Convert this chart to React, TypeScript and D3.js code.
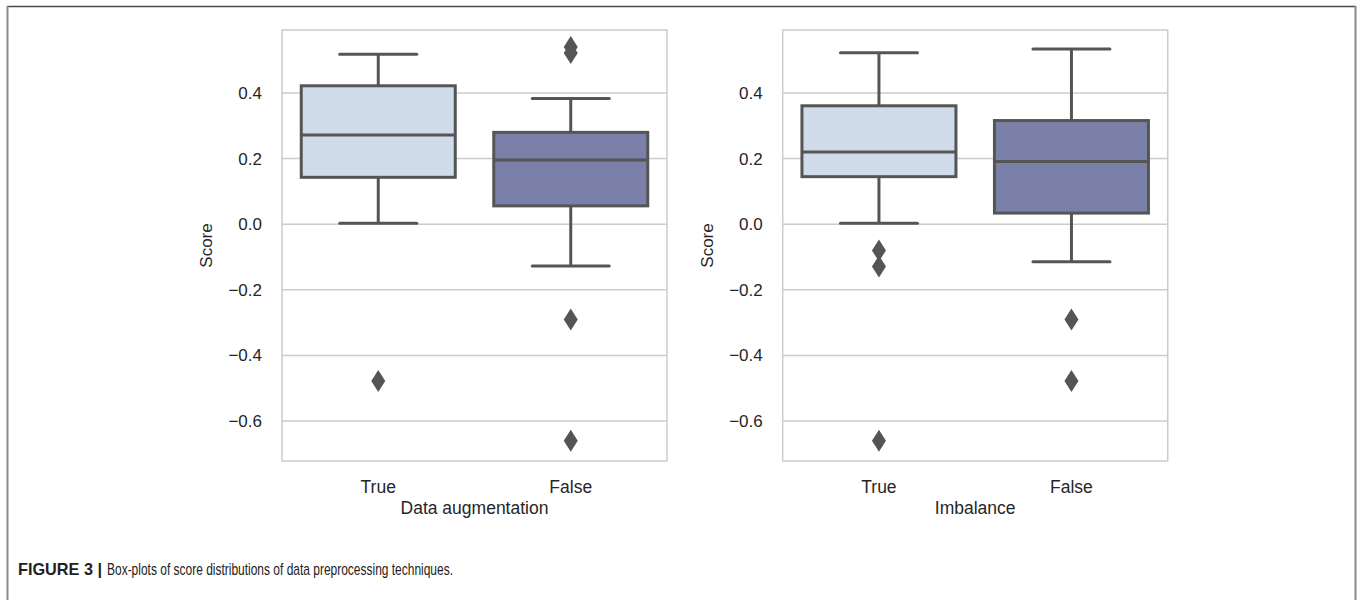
import React, { useEffect, useRef } from "react";
import * as d3 from "d3";

// values
const categories = ["True", "False"];
const panelTitles = ["Data augmentation", "Imbalance"];
const yTicks = [-0.6, -0.4, -0.2, 0.0, 0.2, 0.4];
const boxColors = ["#d0dcea", "#7b80a9"];

// [whiskerLow, q1, median, q3, whiskerHigh] per category
const augmentationStats = [
  [0.003, 0.143, 0.272, 0.422, 0.518],
  [-0.127, 0.056, 0.196, 0.28, 0.383],
];
const augmentationOutliers = [[-0.478], [0.54, 0.522, -0.29, -0.66]];

const imbalanceStats = [
  [0.003, 0.145, 0.22, 0.361, 0.523],
  [-0.114, 0.034, 0.191, 0.316, 0.534],
];
const imbalanceOutliers = [[-0.08, -0.129, -0.66], [-0.29, -0.478]];

const W = 1357;
const H = 600;
const top = 30;
const bottom = 461;
const yDomain = [-0.7216, 0.592];
const panelX = [282, 782.7];
const panelW = 385;
const lineColor = "#555555";
const gridColor = "#cccccc";
const textColor = "#262626";
const font = "'Liberation Sans', Arial, sans-serif";

function drawPanel(svg, x0, stats, outliers, label) {
  const g = svg.append("g");

  const x = d3.scaleBand().domain(categories).range([x0, x0 + panelW]);
  const y = d3.scaleLinear().domain(yDomain).range([bottom, top]);

  // gridlines
  g.selectAll("line.grid")
    .data(yTicks)
    .join("line")
    .attr("x1", x0)
    .attr("x2", x0 + panelW)
    .attr("y1", d => y(d))
    .attr("y2", d => y(d))
    .attr("stroke", gridColor)
    .attr("stroke-width", 1.5);

  // frame
  g.append("rect")
    .attr("x", x0)
    .attr("y", top)
    .attr("width", panelW)
    .attr("height", bottom - top)
    .attr("fill", "none")
    .attr("stroke", gridColor)
    .attr("stroke-width", 1.5);

  // y tick labels
  g.selectAll("text.ytick")
    .data(yTicks)
    .join("text")
    .attr("x", x0 - 20)
    .attr("y", d => y(d))
    .attr("dy", "0.35em")
    .attr("text-anchor", "end")
    .attr("font-family", font)
    .attr("font-size", 17)
    .attr("fill", textColor)
    .text(d => d3.format(".1f")(d).replace("-", "\u2212"));

  // y label
  g.append("text")
    .attr("transform", `translate(${x0 - 70}, ${(top + bottom) / 2}) rotate(-90)`)
    .attr("text-anchor", "middle")
    .attr("font-family", font)
    .attr("font-size", 17)
    .attr("fill", textColor)
    .text("Score");

  const bw = x.bandwidth() * 0.8;

  categories.forEach((c, i) => {
    const [lo, q1, med, q3, hi] = stats[i];
    const cx = x(c) + x.bandwidth() / 2;

    // whiskers
    g.append("line")
      .attr("x1", cx).attr("x2", cx)
      .attr("y1", y(q3)).attr("y2", y(hi))
      .attr("stroke", lineColor).attr("stroke-width", 3);
    g.append("line")
      .attr("x1", cx).attr("x2", cx)
      .attr("y1", y(q1)).attr("y2", y(lo))
      .attr("stroke", lineColor).attr("stroke-width", 3);
    [lo, hi].forEach(v => {
      g.append("line")
        .attr("x1", cx - bw / 4).attr("x2", cx + bw / 4)
        .attr("y1", y(v)).attr("y2", y(v))
        .attr("stroke", lineColor).attr("stroke-width", 3)
        .attr("stroke-linecap", "round");
    });

    // box
    g.append("rect")
      .attr("x", cx - bw / 2)
      .attr("y", y(q3))
      .attr("width", bw)
      .attr("height", y(q1) - y(q3))
      .attr("fill", boxColors[i])
      .attr("stroke", lineColor)
      .attr("stroke-width", 3);

    // median
    g.append("line")
      .attr("x1", cx - bw / 2).attr("x2", cx + bw / 2)
      .attr("y1", y(med)).attr("y2", y(med))
      .attr("stroke", lineColor).attr("stroke-width", 3);

    // outliers as thin diamonds
    g.selectAll(null)
      .data(outliers[i])
      .join("path")
      .attr("d", d => {
        const py = y(d);
        return `M${cx},${py - 11} L${cx + 7},${py} L${cx},${py + 11} L${cx - 7},${py} Z`;
      })
      .attr("fill", lineColor);

    // x tick label
    g.append("text")
      .attr("x", cx)
      .attr("y", 493)
      .attr("text-anchor", "middle")
      .attr("font-family", font)
      .attr("font-size", 17.5)
      .attr("fill", textColor)
      .text(c);
  });

  g.append("text")
    .attr("x", x0 + panelW / 2)
    .attr("y", 514)
    .attr("text-anchor", "middle")
    .attr("font-family", font)
    .attr("font-size", 17.5)
    .attr("fill", textColor)
    .text(label);
}

export default function App() {
  const ref = useRef(null);

  useEffect(() => {
    const svg = d3.select(ref.current);
    svg.selectAll("*").remove();

    // figure frame
    svg.append("line")
      .attr("x1", 7).attr("x2", 1356).attr("y1", 6.5).attr("y2", 6.5)
      .attr("stroke", "#4a4a4a").attr("stroke-width", 1.5);
    svg.append("line")
      .attr("x1", 7.5).attr("x2", 7.5).attr("y1", 6).attr("y2", H)
      .attr("stroke", "#8a8a8a").attr("stroke-width", 2);
    svg.append("line")
      .attr("x1", 1355.5).attr("x2", 1355.5).attr("y1", 6).attr("y2", H)
      .attr("stroke", "#8a8a8a").attr("stroke-width", 2);

    drawPanel(svg, panelX[0], augmentationStats, augmentationOutliers, panelTitles[0]);
    drawPanel(svg, panelX[1], imbalanceStats, imbalanceOutliers, panelTitles[1]);

    // caption (condensed face squeezed via textLength)
    const capFont = "'Liberation Sans Narrow', 'Liberation Sans', Arial, sans-serif";
    svg.append("text")
      .attr("x", 18)
      .attr("y", 575)
      .attr("font-family", capFont)
      .attr("font-size", 17)
      .attr("font-weight", "bold")
      .attr("textLength", 84)
      .attr("lengthAdjust", "spacingAndGlyphs")
      .attr("fill", "#222")
      .text("FIGURE 3 |");
    svg.append("text")
      .attr("x", 107)
      .attr("y", 575)
      .attr("font-family", capFont)
      .attr("font-size", 17)
      .attr("textLength", 346)
      .attr("lengthAdjust", "spacingAndGlyphs")
      .attr("fill", "#222")
      .text("Box-plots of score distributions of data preprocessing techniques.");
  }, []);

  return (
    <svg
      ref={ref}
      width={W}
      height={H}
      style={{ position: "absolute", left: 0, top: 0, background: "#fff" }}
    />
  );
}
